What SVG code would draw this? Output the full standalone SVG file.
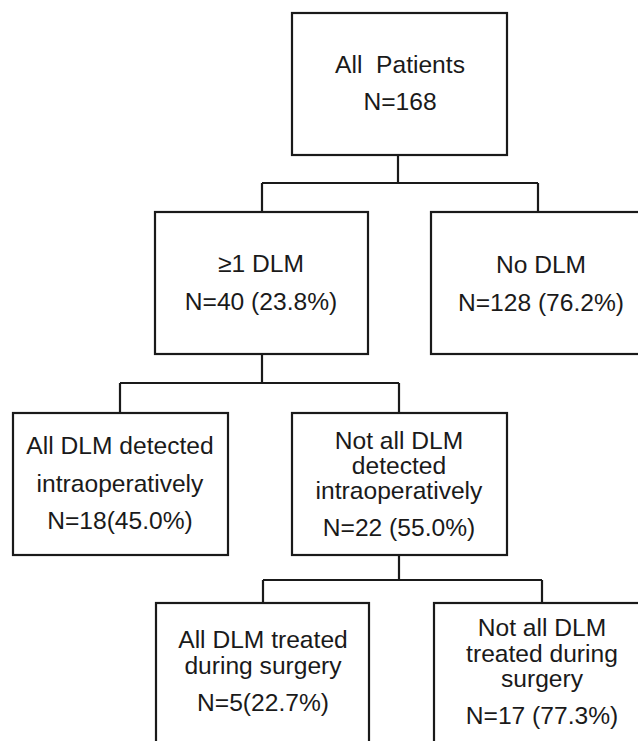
<svg xmlns="http://www.w3.org/2000/svg" width="638" height="741" viewBox="0 0 638 741">
<style>
rect.box{fill:#fff;stroke:#1a1a1a;stroke-width:2.2}
.conn path{fill:none;stroke:#1a1a1a;stroke-width:2.2}
text{font-family:"Liberation Sans",Arial,Helvetica,sans-serif;font-size:24.6px;fill:#1a1a1a;text-anchor:middle}
</style>
<rect width="638" height="741" fill="#fff"/>
<g class="conn" id="connectors">
<path d="M398,155 V183 M262,183 H538 M262,183 V212 M538,183 V212"/>
<path d="M262,354 V383 M120,383 H399 M120,383 V413 M399,383 V413"/>
<path d="M399,555 V580 M263,580 H542 M263,580 V603 M542,580 V603"/>
</g>
<g id="all-patients">
<rect class="box" x="292" y="13" width="215" height="142"/>
<text x="400" y="73" xml:space="preserve">All  Patients</text>
<text x="400" y="110">N=168</text>
</g>
<g id="ge1-dlm">
<rect class="box" x="155" y="212" width="213" height="142"/>
<text x="261" y="272">≥1 DLM</text>
<text x="261" y="310">N=40 (23.8%)</text>
</g>
<g id="no-dlm">
<rect class="box" x="431" y="212" width="215" height="142"/>
<text x="541" y="273">No DLM</text>
<text x="541" y="311">N=128 (76.2%)</text>
</g>
<g id="all-detected">
<rect class="box" x="13" y="413" width="215" height="142"/>
<text x="120" y="454">All DLM detected</text>
<text x="120" y="492">intraoperatively</text>
<text x="120" y="529">N=18(45.0%)</text>
</g>
<g id="not-all-detected">
<rect class="box" x="292" y="413" width="215" height="142"/>
<text x="399" y="449">Not all DLM</text>
<text x="399" y="474">detected</text>
<text x="399" y="499">intraoperatively</text>
<text x="399" y="536">N=22 (55.0%)</text>
</g>
<g id="all-treated">
<rect class="box" x="156" y="603" width="213" height="160"/>
<text x="263" y="648">All DLM treated</text>
<text x="263" y="674">during surgery</text>
<text x="263" y="711">N=5(22.7%)</text>
</g>
<g id="not-all-treated">
<rect class="box" x="434" y="603" width="216" height="160"/>
<text x="542" y="636">Not all DLM</text>
<text x="542" y="662">treated during</text>
<text x="542" y="687">surgery</text>
<text x="542" y="724">N=17 (77.3%)</text>
</g>
</svg>
